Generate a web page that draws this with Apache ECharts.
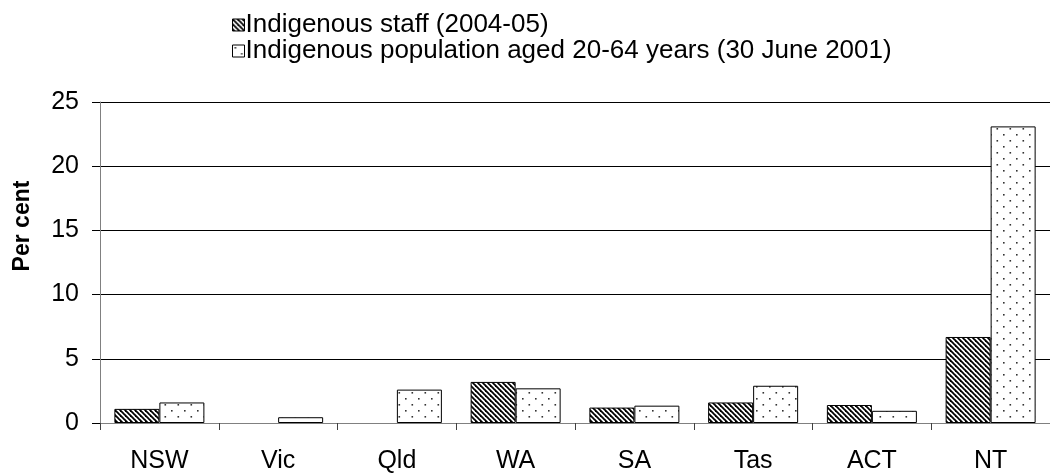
<!DOCTYPE html>
<html><head><meta charset="utf-8">
<script src="https://cdn.jsdelivr.net/npm/echarts@6/dist/echarts.min.js"></script>
<style>html,body{margin:0;padding:0;background:#fff}#c{width:1050px;height:474px}</style>
</head><body><div id="c"></div>
<script>
const categories = ['NSW','Vic','Qld','WA','SA','Tas','ACT','NT'];
const staff = [1.1, null, null, 3.2, 1.2, 1.6, 1.4, 6.7];
const population = [1.6, 0.45, 2.6, 2.7, 1.35, 2.9, 0.95, 23.1];
const seriesNames = ['Indigenous staff (2004-05)', 'Indigenous population aged 20-64 years (30 June 2001)'];
const yTicks = {min: 0, max: 25, interval: 5};
const yTitle = 'Per cent';

function stripePattern() {
  const c = document.createElement('canvas');
  c.width = 5; c.height = 5;
  const g = c.getContext('2d');
  g.fillStyle = '#fff'; g.fillRect(0,0,5,5);
  g.strokeStyle = '#000'; g.lineWidth = 1.8;
  for (let k = -5; k <= 5; k += 5) {
    g.beginPath(); g.moveTo(k - 1, -1); g.lineTo(k + 6, 6); g.stroke();
  }
  return c;
}
function dotPattern() {
  const c = document.createElement('canvas');
  c.width = 13; c.height = 12;
  const g = c.getContext('2d');
  g.fillStyle = '#fff'; g.fillRect(0,0,13,12);
  g.fillStyle = '#333';
  g.fillRect(2,2,1.6,1.6);
  g.fillRect(8.5,8,1.6,1.6);
  return c;
}

const chart = echarts.init(document.getElementById('c'), null, {renderer: 'canvas'});
const font = 'Liberation Sans, Arial, sans-serif';
chart.setOption({
  animation: false,
  textStyle: {fontFamily: font},
  legend: {
    orient: 'vertical', left: 227, top: 7, itemWidth: 12, itemHeight: 12, itemGap: 0,
    icon: 'rect',
    itemStyle: {borderColor: '#000', borderWidth: 1},
    textStyle: {fontSize: 26, lineHeight: 24, color: '#000', fontFamily: font, padding: [0,0,0,-4]},
    data: seriesNames
  },
  graphic: [{
    type: 'text', x: 23, y: 226, rotation: Math.PI / 2,
    style: {text: yTitle, fontSize: 23, fontWeight: 'bold', fill: '#000', fontFamily: font,
            align: 'center', verticalAlign: 'middle'}
  }],
  grid: {left: 100, right: -10, top: 102, bottom: 50, containLabel: false},
  xAxis: {
    type: 'category', data: categories,
    axisLine: {lineStyle: {color: '#808080', width: 1}},
    axisTick: {show: true, length: 7, lineStyle: {color: '#404040'}},
    axisLabel: {fontSize: 25, color: '#000', margin: 26, fontFamily: font}
  },
  yAxis: {
    type: 'value', min: yTicks.min, max: yTicks.max, interval: yTicks.interval,
    axisLine: {show: true, lineStyle: {color: '#808080'}},
    axisTick: {show: true, length: 8, lineStyle: {color: '#000'}},
    axisLabel: {fontSize: 25, color: '#000', margin: 21, fontFamily: font},
    splitLine: {lineStyle: {color: '#000', width: 1}}
  },
  series: [
    {name: seriesNames[0], type: 'bar', data: staff, barWidth: 45, barGap: '0%',
     itemStyle: {color: {image: stripePattern(), repeat: 'repeat'}, borderColor: '#000', borderWidth: 1}},
    {name: seriesNames[1], type: 'bar', data: population, barWidth: 45,
     itemStyle: {color: {image: dotPattern(), repeat: 'repeat'}, borderColor: '#000', borderWidth: 1}}
  ]
});
</script></body></html>
